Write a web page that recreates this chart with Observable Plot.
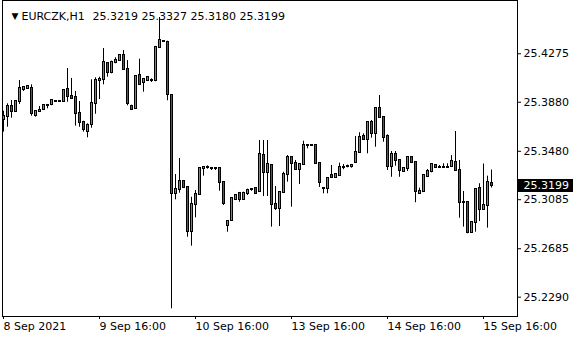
<!DOCTYPE html>
<html><head><meta charset="utf-8">
<script src="https://cdn.jsdelivr.net/npm/d3@7"></script>
<script src="https://cdn.jsdelivr.net/npm/@observablehq/plot@0.6"></script>
<style>
body{margin:0;background:#fff}
#chart{position:relative;width:580px;height:340px}
</style>
</head><body><div id="chart"></div>
<script>
const symbol = "EURCZK";
const period = "H1";
const opens = [
25.3737,25.3766,25.3845,25.3807,25.3884,25.3986,25.3989,25.3989,25.3774,25.3802,
25.3818,25.3853,25.3859,25.3888,25.3888,25.3888,25.3981,25.3924,25.3916,25.3786,
25.3712,25.3644,25.3696,25.3867,25.4055,25.4063,25.4194,25.4120,25.4207,25.4218,
25.4259,25.4145,25.3848,25.3826,25.4095,25.4038,25.4055,25.4057,25.4055,25.4324,
25.4378,25.4365,25.3937,25.3133,25.3166,25.3231,25.3187,25.2828,25.3046,25.3127,
25.3342,25.3345,25.3337,25.3337,25.3337,25.3223,25.2872,25.2915,25.3084,25.3138,
25.3084,25.3138,25.3171,25.3174,25.3154,25.3445,25.3309,25.3364,25.3043,25.3011,
25.3146,25.3290,25.3427,25.3378,25.3329,25.3372,25.3527,25.3527,25.3527,25.3383,
25.3174,25.3174,25.3282,25.3264,25.3282,25.3351,25.3356,25.3356,25.3386,25.3472,
25.3600,25.3574,25.3712,25.3622,25.3826,25.3758,25.3600,25.3358,25.3451,25.3405,
25.3317,25.3337,25.3432,25.3389,25.3133,25.3152,25.3277,25.3315,25.3364,25.3351,
25.3351,25.3351,25.3358,25.3391,25.3323,25.3064,25.3064,25.2820,25.2901,25.3174,
25.3003,25.3038,25.3219];
const highs = [
25.3807,25.3867,25.3894,25.3894,25.4057,25.4006,25.4006,25.4022,25.3802,25.3845,
25.3853,25.3862,25.3902,25.3889,25.3889,25.3978,25.4155,25.4074,25.3968,25.3886,
25.3725,25.3704,25.4063,25.4079,25.4084,25.4318,25.4202,25.4215,25.4243,25.4267,
25.4302,25.4220,25.3856,25.4098,25.4231,25.4071,25.4079,25.4071,25.4335,25.4571,
25.4380,25.4378,25.3943,25.3290,25.3421,25.3232,25.3188,25.3105,25.3160,25.3345,
25.3356,25.3361,25.3348,25.3338,25.3338,25.3224,25.2905,25.3100,25.3127,25.3144,
25.3146,25.3171,25.3176,25.3175,25.3568,25.3568,25.3568,25.3365,25.3193,25.3147,
25.3309,25.3445,25.3428,25.3405,25.3372,25.3562,25.3528,25.3528,25.3528,25.3384,
25.3175,25.3264,25.3364,25.3290,25.3383,25.3372,25.3367,25.3364,25.3600,25.3631,
25.3622,25.3713,25.3731,25.3831,25.3935,25.3759,25.3614,25.3478,25.3478,25.3406,
25.3339,25.3432,25.3433,25.3390,25.3179,25.3288,25.3331,25.3376,25.3370,25.3364,
25.3378,25.3378,25.3445,25.3641,25.3405,25.3152,25.3065,25.2902,25.3168,25.3215,
25.3376,25.3277,25.3327];
const lows = [
25.3636,25.3676,25.3750,25.3805,25.3862,25.3968,25.3988,25.3766,25.3758,25.3800,
25.3817,25.3826,25.3851,25.3887,25.3887,25.3884,25.3880,25.3913,25.3685,25.3676,
25.3636,25.3590,25.3668,25.3782,25.3902,25.4022,25.4084,25.4112,25.4194,25.4215,
25.4145,25.3851,25.3818,25.3825,25.4019,25.3962,25.4054,25.4041,25.4047,25.4318,
25.4376,25.3892,25.2195,25.3084,25.3138,25.3187,25.2779,25.2706,25.2937,25.3119,
25.3277,25.3334,25.3323,25.3323,25.3154,25.3038,25.2820,25.2913,25.3078,25.3064,
25.3078,25.3119,25.3154,25.3138,25.3153,25.3111,25.3111,25.2861,25.2997,25.2866,
25.3138,25.3228,25.3024,25.3329,25.3209,25.3371,25.3500,25.3526,25.3380,25.3185,
25.3133,25.3133,25.3264,25.3263,25.3274,25.3329,25.3345,25.3342,25.3385,25.3471,
25.3568,25.3459,25.3587,25.3513,25.3758,25.3554,25.3323,25.3268,25.3358,25.3268,
25.3315,25.3315,25.3389,25.3060,25.3132,25.3146,25.3268,25.3304,25.3342,25.3345,
25.3345,25.3340,25.3350,25.3315,25.2934,25.2861,25.2807,25.2819,25.2820,25.2907,
25.3002,25.2853,25.3180];
const closes = [
25.3766,25.3845,25.3807,25.3884,25.3992,25.4003,25.4005,25.3786,25.3802,25.3810,
25.3851,25.3856,25.3892,25.3888,25.3888,25.3973,25.3924,25.3913,25.3786,25.3712,
25.3655,25.3688,25.3867,25.4055,25.4065,25.4202,25.4120,25.4207,25.4218,25.4259,
25.4145,25.3867,25.3823,25.4090,25.4026,25.4063,25.4079,25.4058,25.4324,25.4381,
25.4378,25.3943,25.3133,25.3166,25.3231,25.3187,25.2828,25.3046,25.3127,25.3337,
25.3345,25.3345,25.3337,25.3337,25.3228,25.3056,25.2905,25.3092,25.3122,25.3084,
25.3138,25.3160,25.3170,25.3139,25.3454,25.3309,25.3372,25.3043,25.3011,25.3146,
25.3290,25.3427,25.3378,25.3329,25.3372,25.3527,25.3527,25.3527,25.3383,25.3223,
25.3174,25.3255,25.3264,25.3290,25.3351,25.3351,25.3356,25.3364,25.3472,25.3595,
25.3574,25.3712,25.3627,25.3826,25.3758,25.3595,25.3358,25.3451,25.3405,25.3323,
25.3337,25.3427,25.3389,25.3152,25.3152,25.3282,25.3315,25.3368,25.3345,25.3351,
25.3351,25.3351,25.3399,25.3323,25.3064,25.3063,25.2820,25.2901,25.3168,25.3003,
25.3038,25.3223,25.3199];
const xTickBars = [0, 24, 48, 72, 96, 120];
const xTickLabels = ["8 Sep 2021", "9 Sep 16:00", "10 Sep 16:00", "13 Sep 16:00", "14 Sep 16:00", "15 Sep 16:00"];
const yTickValues = [25.4275, 25.3880, 25.3480, 25.3085, 25.2685, 25.2290];

const bullColor = "#3cb43c";
const bearColor = "#dc1e1e";

const bars = opens.map((o, i) => ({
  i, open: o, close: closes[i],
  high: Math.max(highs[i], o, closes[i]),
  low: Math.min(lows[i], o, closes[i])
}));
const last = bars[bars.length - 1];
const header = [last.open, last.high, last.low, last.close].map(v => v.toFixed(4)).join(" ");

const chart = Plot.plot({
  width: 580, height: 340,
  marginTop: 0, marginBottom: 24, marginLeft: 2, marginRight: 63,
  style: {fontFamily: "DejaVu Sans, sans-serif", fontSize: "11px", color: "black", background: "white"},
  x: {domain: [-0.25, 128.5]},
  y: {domain: [25.21323, 25.47097]},
  marks: [
    Plot.frame({stroke: "black"}),
    Plot.ruleX(bars, {x: "i", y1: "low", y2: "high", stroke: "black", strokeWidth: 1}),
    Plot.rect(bars, {
      x1: d => d.i - 0.25, x2: d => d.i + 0.25, y1: "open", y2: "close",
      insetTop: -0.5, insetBottom: -0.5,
      fill: d => d.close >= d.open ? bullColor : bearColor,
      stroke: "black", strokeWidth: 1, shapeRendering: "crispEdges"
    }),
    Plot.axisY(yTickValues, {anchor: "right", tickSize: 3, tickPadding: 3, tickFormat: d => d.toFixed(4), fill: "black", label: null}),
    Plot.axisX(xTickBars, {anchor: "bottom", tickSize: 3, tickPadding: 3, textAnchor: "start",
      tickFormat: d => xTickLabels[xTickBars.indexOf(d)], fill: "black", label: null}),
    Plot.text(["\u25BC"], {frameAnchor: "top-left", dx: 9, dy: 12, fontSize: 9, fill: "black"}),
    Plot.text([`${symbol},${period}`], {frameAnchor: "top-left", textAnchor: "start", dx: 19, dy: 12, fill: "black"}),
    Plot.text([header], {frameAnchor: "top-left", textAnchor: "start", dx: 90, dy: 12, fill: "black"}),
    Plot.text([last.close], {y: d => d, text: d => d.toFixed(4), frameAnchor: "right", textAnchor: "start", dx: 6, fill: "white"})
  ]
});
document.getElementById("chart").appendChild(chart);

// black background box behind the current-price label (the only white text)
const g = chart.querySelector('g[fill="white"]');
if (g) {
  const t = g.querySelector("text");
  const sr = chart.getBoundingClientRect();
  const tr = t.getBoundingClientRect();
  const x0 = 580 - 63;
  const rect = document.createElementNS("http://www.w3.org/2000/svg", "rect");
  rect.setAttribute("x", x0);
  rect.setAttribute("y", Math.round(tr.top - sr.top));
  rect.setAttribute("width", Math.round(tr.right - sr.left + 4 - x0));
  rect.setAttribute("height", Math.round(tr.height));
  rect.setAttribute("fill", "black");
  g.parentNode.insertBefore(rect, g);
}
</script>
</body></html>
